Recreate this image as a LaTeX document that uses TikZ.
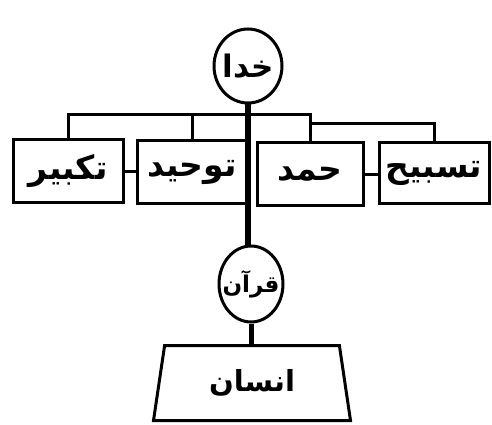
\documentclass[tikz,border=0pt]{standalone}
\usepackage{fontspec}
\usetikzlibrary{shapes.geometric}
\TeXXeTstate=1
\newfontfamily\arabicfont[Script=Arabic]{DejaVu Sans}
\newcommand{\ar}[1]{\arabicfont\bfseries\beginR #1\endR}
\tikzset{
  border/.style={draw=black, line width=3pt},
  roundnode/.style={border, ellipse, inner sep=0pt},
  boxnode/.style={border, rectangle, inner sep=0pt, minimum width=110pt, minimum height=63pt, font=\fontsize{33}{36}\selectfont},
  conn/.style={draw=black, line width=3pt},
  stem/.style={draw=black, line width=6pt}
}
\begin{document}
\begin{tikzpicture}[x=1pt,y=-1pt]
\useasboundingbox[fill=white] (0,0) rectangle (492,425);
\node[roundnode, minimum width=68pt, minimum height=74pt,
      label={[font=\fontsize{31}{34}\selectfont]center:\ar{خدا}}] (khoda) at (248,66) {};
\node[boxnode] (takbir) at (68,171) {\ar{تكبير}};
\node[boxnode] (towhid) at (192,172) {\ar{توحيد}};
\node[boxnode, minimum width=106pt] (hamd) at (310,174) {\ar{حمد}};
\node[boxnode, minimum height=61pt] (tasbih) at (434,173) {\ar{تسبيح}};
\node[roundnode, minimum width=64pt, minimum height=76pt,
      label={[font=\fontsize{23}{26}\selectfont]center:\ar{قرآن}}] (quran) at (251,284) {};
\node[border, trapezium, trapezium left angle=67.5, trapezium right angle=67.5,
      trapezium stretches body, minimum width=197pt, minimum height=75pt, inner sep=0pt,
      font=\fontsize{29}{32}\selectfont] (ensan) at (252,383) {\ar{انسان}};
\coordinate (barL) at (0,115);
\coordinate (barR) at (0,123);
\draw[conn, line join=miter] (takbir.north) -- (takbir.north |- barL) -- (hamd.north |- barL) -- (hamd.north);
\draw[conn, line join=miter] (hamd.north |- barR) -- (tasbih.north |- barR) -- (tasbih.north);
\draw[conn] (towhid.north) -- (towhid.north |- barL);
\draw[conn] (takbir.east) -- (takbir.east -| towhid.west);
\draw[conn] (hamd.east) -- (hamd.east -| tasbih.west);
\draw[stem] (khoda.south) -- (khoda.south |- quran.north);
\draw[stem, line width=5pt] (quran.south) -- (quran.south |- ensan.north);
\end{tikzpicture}
\end{document}
